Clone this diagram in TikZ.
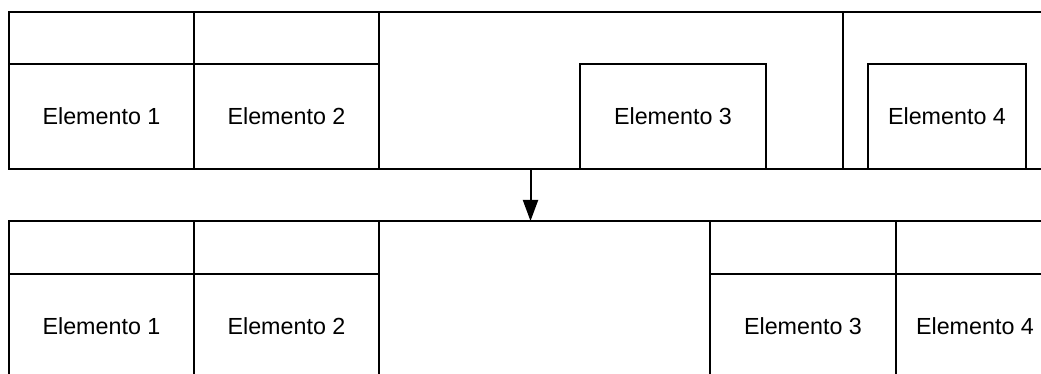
\documentclass[tikz,border=0pt]{standalone}
\usepackage{fontspec}
\setmainfont{Liberation Sans}
\usetikzlibrary{arrows.meta}
\begin{document}
\begin{tikzpicture}[x=1pt,y=-1pt,
  cell/.style={draw=black, line width=2pt, rectangle, inner sep=0pt, outer sep=0pt,
    font=\fontsize{23.3}{28}\selectfont},
  conn/.style={draw=black, line width=2pt, -{Triangle[width=15pt,length=21pt]}}]
\useasboundingbox (0,0) rectangle (1041,374);
\clip (0,0) rectangle (1041,374);
% top row
\node[cell, minimum width=185pt, minimum height=52pt] (h1) at (101.5,38) {};
\node[cell, minimum width=185pt, minimum height=105pt] (b1) at (101.5,116.5) {Elemento 1};
\node[cell, minimum width=185pt, minimum height=52pt] (h2) at (286.5,38) {};
\node[cell, minimum width=185pt, minimum height=105pt] (b2) at (286.5,116.5) {Elemento 2};
\node[cell, minimum width=464pt, minimum height=157pt] (c1) at (611,90.5) {};
\node[cell, minimum width=186pt, minimum height=105pt] (e3) at (673,116.5) {Elemento 3};
\node[cell, minimum width=208pt, minimum height=157pt] (c2) at (947,90.5) {};
\node[cell, minimum width=158pt, minimum height=105pt] (e4) at (947,116.5) {Elemento 4};
% bottom row
\node[cell, minimum width=185pt, minimum height=53pt] (bh1) at (101.5,247.5) {};
\node[cell, minimum width=185pt, minimum height=105pt] (bb1) at (101.5,326.5) {Elemento 1};
\node[cell, minimum width=185pt, minimum height=53pt] (bh2) at (286.5,247.5) {};
\node[cell, minimum width=185pt, minimum height=105pt] (bb2) at (286.5,326.5) {Elemento 2};
\node[cell, minimum width=331pt, minimum height=158pt] (bc) at (544.5,300) {};
\node[cell, minimum width=186pt, minimum height=53pt] (bh3) at (803,247.5) {};
\node[cell, minimum width=186pt, minimum height=105pt] (bb3) at (803,326.5) {Elemento 3};
\node[cell, minimum width=158pt, minimum height=53pt] (bh4) at (975,247.5) {};
\node[cell, minimum width=158pt, minimum height=105pt] (bb4) at (975,326.5) {Elemento 4};
% arrow
\coordinate (ax) at (530.5,0);
\draw[conn] (c1.south -| ax) -- (bc.north -| ax);
\end{tikzpicture}
\end{document}
